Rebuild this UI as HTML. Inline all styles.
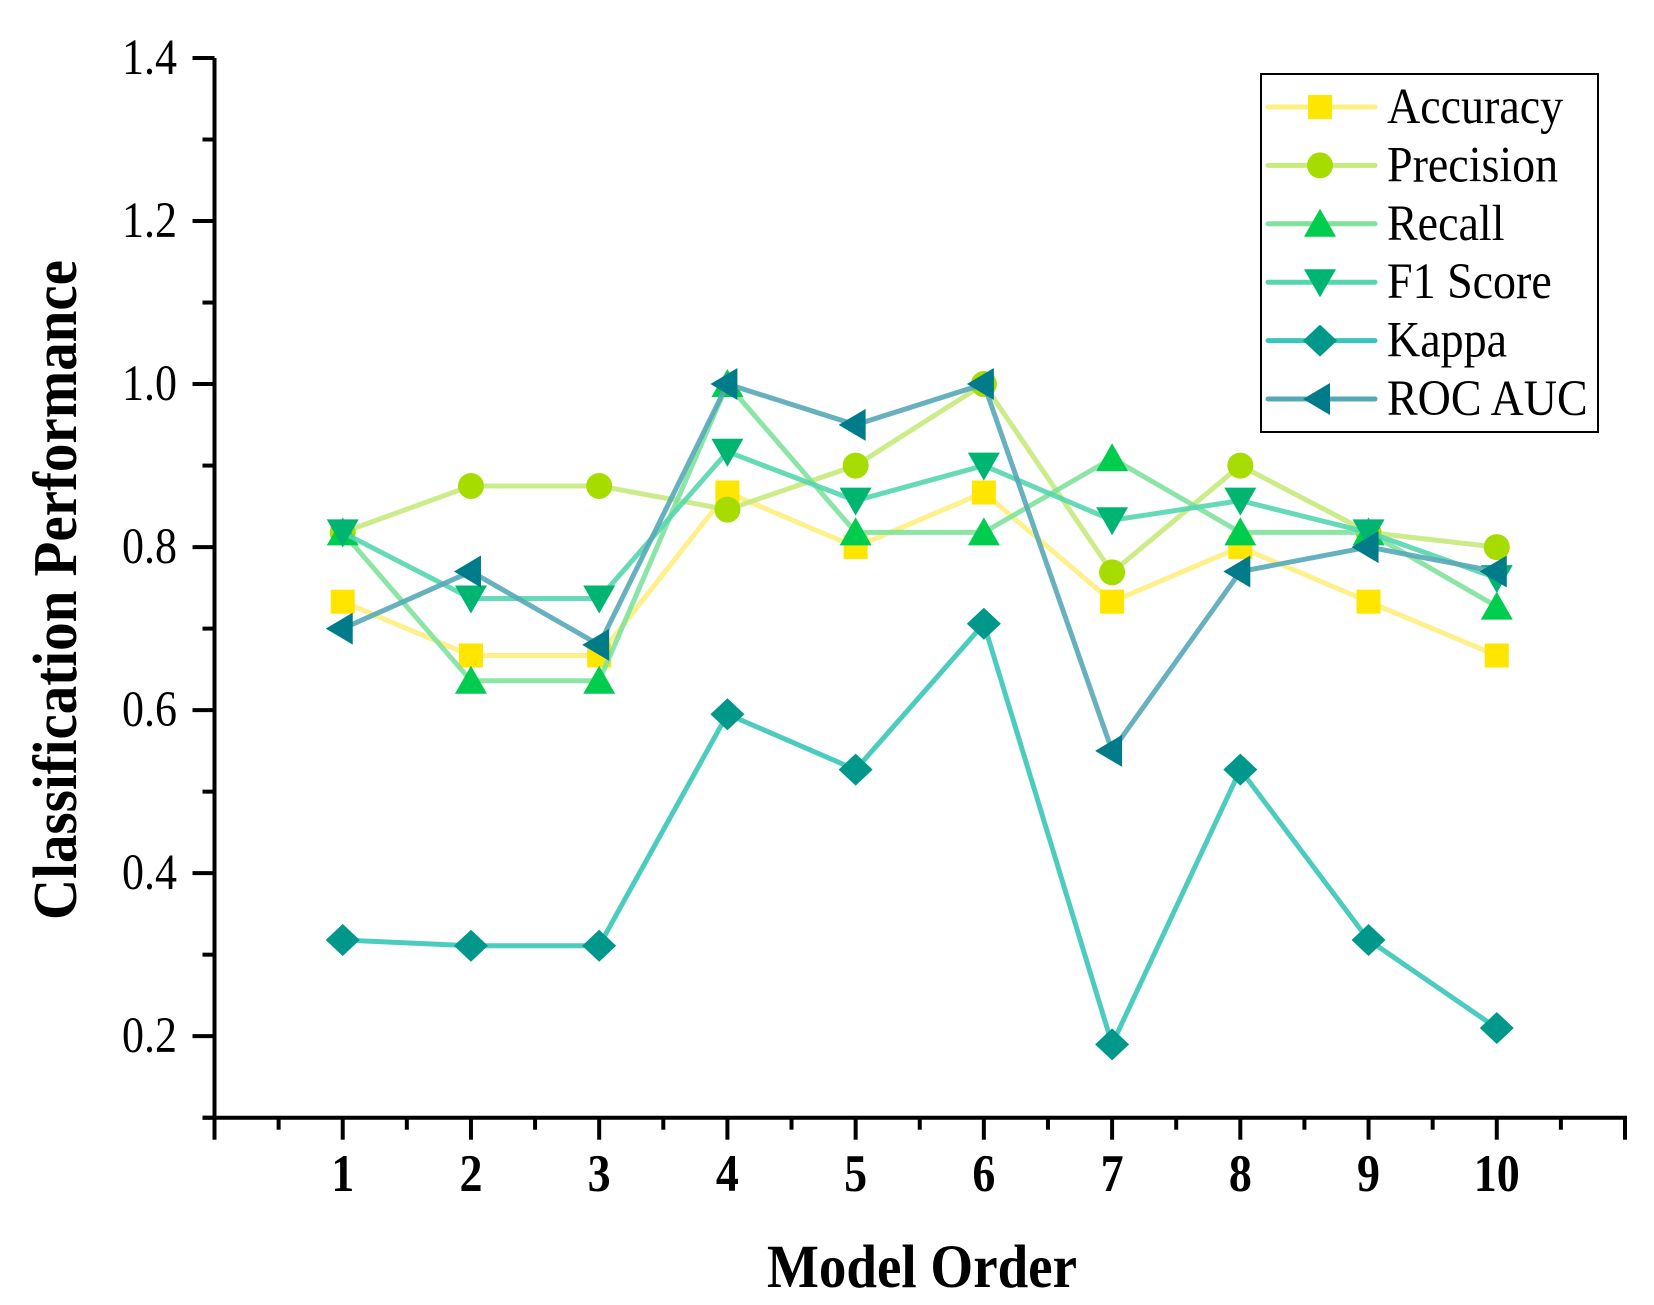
<!DOCTYPE html>
<html><head><meta charset="utf-8"><style>
html,body{margin:0;padding:0;background:#fff}
svg{display:block}
text{font-family:"Liberation Serif",serif;fill:#000}
</style></head><body>
<svg id="chart" width="1654" height="1305" viewBox="0 0 1654 1305"></svg>
<script>
const categories = [1,2,3,4,5,6,7,8,9,10];
const yTicks = [0.2,0.4,0.6,0.8,1.0,1.2,1.4];
const yTickLabels = ["0.2","0.4","0.6","0.8","1.0","1.2","1.4"];
const accuracy = [0.733,0.667,0.667,0.867,0.8,0.867,0.733,0.8,0.733,0.667];
const precision = [0.818,0.875,0.875,0.846,0.9,1.0,0.769,0.9,0.818,0.8];
const recall = [0.818,0.636,0.636,1.0,0.818,0.818,0.909,0.818,0.818,0.727];
const f1 = [0.818,0.737,0.737,0.917,0.857,0.9,0.833,0.857,0.818,0.762];
const kappa = [0.318,0.311,0.311,0.595,0.527,0.706,0.19,0.527,0.318,0.21];
const rocAuc = [0.7,0.77,0.68,1.0,0.95,1.0,0.55,0.77,0.8,0.77];
const seriesNames = ["Accuracy","Precision","Recall","F1 Score","Kappa","ROC AUC"];

const NS="http://www.w3.org/2000/svg";
const svg=document.getElementById('chart');
const L=214.5,R=1625,B=1117.7,T=58;
const xs=v=>L+(v)*(R-L)/11;
const ys=v=>B-(v-0.1)*(B-T)/1.3;
function mk(tag,attrs,parent){const e=document.createElementNS(NS,tag);for(const k in attrs)e.setAttribute(k,attrs[k]);(parent||svg).appendChild(e);return e;}

const styles=[
 {d:accuracy,m:'square',mc:'#FFE600',lc:'#FFEE80'},
 {d:precision,m:'circle',mc:'#A6DC00',lc:'#C6EA7C'},
 {d:recall,m:'up',mc:'#00CC4E',lc:'#80E29C'},
 {d:f1,m:'down',mc:'#00B572',lc:'#55D6AE'},
 {d:kappa,m:'diamond',mc:'#00988A',lc:'#38C6B8'},
 {d:rocAuc,m:'left',mc:'#007B8A',lc:'#56A8B8'}
];
function marker(type,x,y,c,parent){
 const s=12;let e;
 if(type==='square')e=mk('rect',{x:x-s,y:y-s,width:2*s,height:2*s,fill:c},parent);
 else if(type==='circle')e=mk('circle',{cx:x,cy:y,r:13,fill:c},parent);
 else {let p;
  if(type==='up')p=[[x,y-15],[x+16,y+13],[x-16,y+13]];
  else if(type==='down')p=[[x-16,y-13],[x+16,y-13],[x,y+15]];
  else if(type==='diamond')p=[[x,y-16],[x+17,y],[x,y+16],[x-17,y]];
  else p=[[x-17,y],[x+10,y-16],[x+10,y+16]];
  e=mk('polygon',{points:p.map(q=>q.join(',')).join(' '),fill:c},parent);}
 return e;
}

// axes
const axes=mk('g',{});


mk('line',{x1:L,y1:T,x2:L,y2:B+2,stroke:'#000','stroke-width':4},axes);
mk('line',{x1:L-12,y1:B,x2:R+2,y2:B,stroke:'#000','stroke-width':4},axes);
for(let v=0.1;v<1.41;v+=0.1){const y=ys(v);const major=Math.abs((v*10)%2)<0.01||Math.abs((v*10)%2-2)<0.01;
 mk('line',{x1:L-(major&&v>0.15?22:12),y1:y,x2:L,y2:y,stroke:'#000','stroke-width':4},axes);}
yTicks.forEach((v,i)=>{const y=ys(v)+16;const t=mk('text',{x:0,y:0,'text-anchor':'end','font-size':44,transform:'translate(177,'+y+') scale(1,1.15)'},axes);t.textContent=yTickLabels[i];
 });
for(let i=0;i<=22;i++){const x=L+i*(R-L)/22;const major=i%2===0;
 mk('line',{x1:x,y1:B,x2:x,y2:B+(major?22:12),stroke:'#000','stroke-width':4},axes);}
categories.forEach(c=>{const t=mk('text',{x:0,y:0,'text-anchor':'middle','font-size':46,'font-weight':'bold',transform:'translate('+xs(c)+',1191) scale(1,1.15)'},axes);t.textContent=c;
 });
const xt=mk('text',{x:0,y:0,'text-anchor':'middle','font-size':55,'font-weight':'bold',transform:'translate(922,1287) scale(1,1.12)'});xt.textContent='Model Order';

const yt=mk('text',{x:0,y:0,'text-anchor':'middle','font-size':57,'font-weight':'bold',transform:'translate(76,590) rotate(-90) scale(1,1.1)'});yt.textContent='Classification Performance';


// series
styles.forEach((s,si)=>{
 const g=mk('g',{});
 
 
 mk('polyline',{points:s.d.map((v,i)=>xs(categories[i])+','+ys(v)).join(' '),fill:'none',stroke:s.lc,'stroke-width':5,'stroke-linejoin':'round','opacity':0.9},g);
 s.d.forEach((v,i)=>{const m=marker(s.m,xs(categories[i]),ys(v),s.mc,g);
  });
});

// legend
const lg=mk('g',{});


mk('rect',{x:1261,y:74,width:337,height:358,fill:'#fff',stroke:'#000','stroke-width':2},lg);
styles.forEach((s,i)=>{const y=107+i*58.4;
 const e=mk('g',{},lg);
 
 
 mk('line',{x1:1268,y1:y,x2:1375,y2:y,stroke:s.lc,'stroke-width':5,'stroke-linecap':'round'},e);
 marker(s.m,1320,y,s.mc,e);
 const t=mk('text',{x:0,y:0,'font-size':46,transform:'translate(1387,'+(y+16)+') scale(1,1.1)'},e);t.textContent=seriesNames[i];});
</script>
</body></html>
